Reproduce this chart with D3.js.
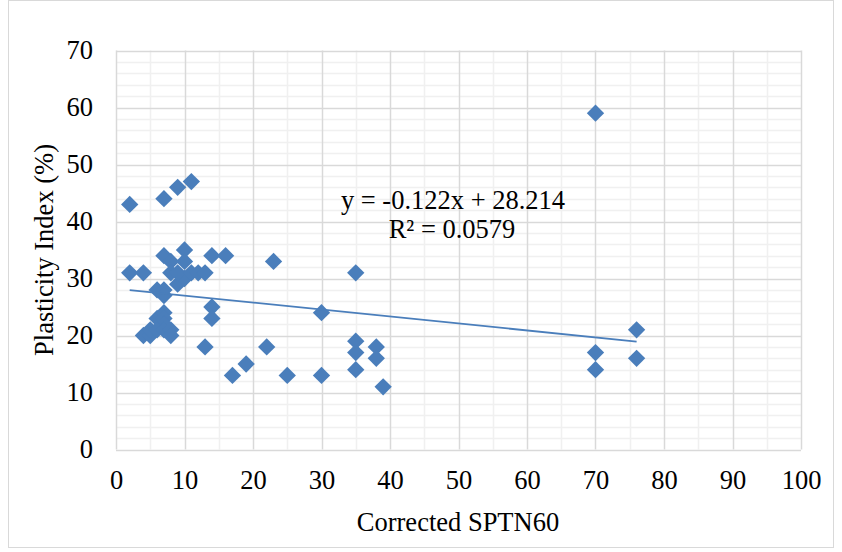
<!DOCTYPE html>
<html><head><meta charset="utf-8">
<script src="https://cdn.jsdelivr.net/npm/d3@7"></script>
<style>body{margin:0;background:#fff}svg{display:block}text{font-family:"Liberation Serif","Times New Roman",serif;fill:#000}</style>
</head><body>
<svg id="c" width="842" height="552"></svg>
<script>
const spt = [2,2,4,7,9,11, 7,8,10,10,8,9,10,9,11,12,13,14,16,23,35, 6,7,7,6,7,7,7,4,5,5,6,7,8,8, 14,14,13,22,17,19,25,30,30,35,35,35,38,38,39,70,70,70,76,76];
const pi  = [43,31,31,44,46,47, 34,33,35,33,31,29,30,31,31,31,31,34,34,33,31, 28,28,27,23,24,23,22,20,20,21,21,21,21,20, 25,23,18,18,13,15,13,13,24,19,17,14,18,16,11,59,17,14,21,16];
const xTicks = [0,10,20,30,40,50,60,70,80,90,100];
const yTicks = [0,10,20,30,40,50,60,70];
const slope = -0.122, intercept = 28.214;
const eqText = "y = -0.122x + 28.214";
const r2Text = "R² = 0.0579";
const xTitle = "Corrected SPTN60";
const yTitle = "Plasticity Index (%)";

const FS = 26.5;
const svg = d3.select("#c");
const L=116, R=801, T=50.5, B=449.5;
const x = d3.scaleLinear().domain([0,100]).range([L,R]);
const y = d3.scaleLinear().domain([0,70]).range([B,T]);

svg.append("rect").attr("x",8.5).attr("y",0.5).attr("width",825).attr("height",547).attr("fill","none").attr("stroke","#d9d9d9");

const g = svg.append("g");
g.selectAll(".mx").data(d3.range(5,100,10)).join("line")
 .attr("x1",d=>Math.round(x(d))+0.5).attr("x2",d=>Math.round(x(d))+0.5).attr("y1",T).attr("y2",B).attr("stroke","#f0f0f0").attr("stroke-width",1.5);
g.selectAll(".my").data(d3.range(2,70,2).filter(v=>v%10)).join("line")
 .attr("y1",d=>Math.round(y(d))+0.5).attr("y2",d=>Math.round(y(d))+0.5).attr("x1",L).attr("x2",R).attr("stroke","#f0f0f0").attr("stroke-width",1.5);
g.selectAll(".Mx").data(xTicks).join("line")
 .attr("x1",d=>Math.round(x(d))+0.5).attr("x2",d=>Math.round(x(d))+0.5).attr("y1",T).attr("y2",B).attr("stroke","#d9d9d9").attr("stroke-width",1.5);
g.selectAll(".My").data(yTicks).join("line")
 .attr("y1",d=>Math.round(y(d))+0.5).attr("y2",d=>Math.round(y(d))+0.5).attr("x1",L).attr("x2",R).attr("stroke","#d9d9d9").attr("stroke-width",1.5);

const xa = svg.append("g").attr("transform",`translate(0,${B})`).call(d3.axisBottom(x).tickValues(xTicks).tickSize(0).tickPadding(21));
xa.select(".domain").remove();
xa.selectAll("text").attr("font-size",FS).attr("font-family","Liberation Serif").attr("fill","#000");
const ya = svg.append("g").attr("transform",`translate(${L},0)`).call(d3.axisLeft(y).tickValues(yTicks).tickSize(0).tickPadding(23));
ya.select(".domain").remove();
ya.selectAll("text").attr("font-size",FS).attr("font-family","Liberation Serif").attr("fill","#000");

const sym = d3.symbol().type(d3.symbolSquare).size(150);
svg.append("g").selectAll("path").data(spt.map((v,i)=>[v,pi[i]])).join("path")
 .attr("d",sym).attr("transform",d=>`translate(${x(d[0])},${y(d[1])}) rotate(45)`).attr("fill","#4a7ebb");

const x0 = d3.min(spt), x1 = d3.max(spt);
svg.append("line").attr("x1",x(x0)).attr("y1",y(slope*x0+intercept)).attr("x2",x(x1)).attr("y2",y(slope*x1+intercept))
 .attr("stroke","#4a7ebb").attr("stroke-width",1.8);

svg.append("text").attr("x",453).attr("y",209).attr("text-anchor","middle").attr("font-size",FS).text(eqText);
svg.append("text").attr("x",452).attr("y",238).attr("text-anchor","middle").attr("font-size",FS).text(r2Text);

svg.append("text").attr("x",458).attr("y",531).attr("text-anchor","middle").attr("font-size",FS).text(xTitle);
svg.append("text").attr("transform","translate(53,250) rotate(-90)").attr("text-anchor","middle").attr("font-size",FS).text(yTitle);
</script>
</body></html>
